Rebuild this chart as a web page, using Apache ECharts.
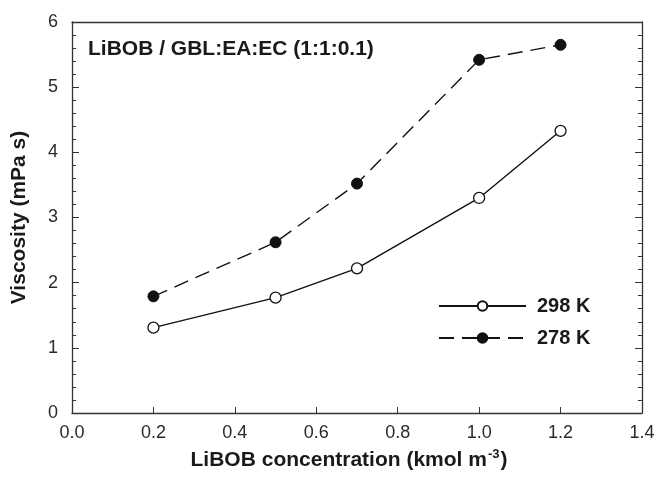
<!DOCTYPE html>
<html>
<head>
<meta charset="utf-8">
<script src="https://cdn.jsdelivr.net/npm/echarts@6/dist/echarts.min.js"></script>
<style>html,body{margin:0;padding:0;background:#fff}#c{width:659px;height:478px}</style>
</head>
<body>
<div id="c"></div>
<script>
// LiBOB concentration (kmol m^-3)
const concentration = [0.2, 0.5, 0.7, 1.0, 1.2];
// Viscosity (mPa s) at each temperature
const visc298 = [1.31, 1.77, 2.22, 3.30, 4.33];
const visc278 = [1.79, 2.62, 3.52, 5.42, 5.65];
const xTicks = [0.0, 0.2, 0.4, 0.6, 0.8, 1.0, 1.2, 1.4];
const yTicks = [0, 1, 2, 3, 4, 5, 6];
const seriesNames = ['298 K', '278 K'];

const pairs = (xs, ys) => xs.map((x, i) => [x, ys[i]]);
const font = 'Arial, "Liberation Sans", Helvetica, sans-serif';
const ink = '#1a1a1a';

const chart = echarts.init(document.getElementById('c'), null, { renderer: 'canvas' });
chart.setOption({
  animation: false,
  backgroundColor: '#fff',
  textStyle: { fontFamily: font },
  title: {
    text: 'LiBOB / GBL:EA:EC (1:1:0.1)',
    left: 83, top: 34,
    textStyle: { fontSize: 21, fontWeight: 'bold', color: ink, fontFamily: font }
  },
  legend: {
    orient: 'vertical',
    left: 433, top: 291,
    itemWidth: 87, itemHeight: 12, itemGap: 12,
    textStyle: { fontSize: 20, fontWeight: 'bold', color: ink, padding: [0, 0, 0, 6] },
    data: seriesNames
  },
  grid: { left: 72, right: 17, top: 22, bottom: 65 },
  xAxis: [{
    type: 'value', min: xTicks[0], max: xTicks[xTicks.length - 1], interval: 0.2,
    name: '{b|LiBOB concentration (kmol m}{s|-3}{b|)}',
    nameLocation: 'middle', nameGap: 35,
    nameTextStyle: {
      padding: [0, 16, 0, 0],
      rich: {
        b: { fontSize: 21, fontWeight: 'bold', color: ink, fontFamily: font },
        s: { fontSize: 13, fontWeight: 'bold', color: ink, fontFamily: font, verticalAlign: 'top', padding: [0, 1, 12, 1] }
      }
    },
    axisLine: { lineStyle: { color: '#333', width: 1.3 } },
    axisTick: { inside: true, length: 6, lineStyle: { color: '#333' } },
    axisLabel: { fontSize: 18, color: '#2a2a2a', margin: 11, formatter: v => v.toFixed(1) },
    splitLine: { show: false }
  }, {
    type: 'value', position: 'top', min: 0, max: 1.4,
    axisLine: { show: true, onZero: false, lineStyle: { color: '#333', width: 1.3 } },
    axisTick: { show: false }, axisLabel: { show: false }, splitLine: { show: false }
  }],
  yAxis: [{
    type: 'value', min: yTicks[0], max: yTicks[yTicks.length - 1], interval: 1,
    name: 'Viscosity (mPa s)', nameLocation: 'middle', nameGap: 42,
    nameTextStyle: { fontSize: 21, fontWeight: 'bold', color: ink },
    axisLine: { show: true, lineStyle: { color: '#333', width: 1.3 } },
    axisTick: { inside: true, length: 7, lineStyle: { color: '#333' } },
    minorTick: { show: true, splitNumber: 5, length: 4, lineStyle: { color: '#333' } },
    axisLabel: { fontSize: 18, color: '#2a2a2a', margin: 14 },
    splitLine: { show: false }
  }, {
    type: 'value', position: 'right', min: 0, max: 6, interval: 1,
    axisLine: { show: true, onZero: false, lineStyle: { color: '#333', width: 1.3 } },
    axisTick: { inside: true, length: 7, lineStyle: { color: '#333' } },
    minorTick: { show: true, splitNumber: 5, length: 4, lineStyle: { color: '#333' } },
    axisLabel: { show: false }, splitLine: { show: false }
  }],
  series: [{
    name: seriesNames[0], type: 'line', data: pairs(concentration, visc298),
    symbol: 'circle', symbolSize: 11,
    lineStyle: { color: '#111', width: 1.4, type: 'solid' },
    itemStyle: { color: '#fff', borderColor: '#111', borderWidth: 1.3 },
    z: 3
  }, {
    name: seriesNames[1], type: 'line', data: pairs(concentration, visc278),
    symbol: 'circle', symbolSize: 11,
    lineStyle: { color: '#111', width: 1.4, type: [15, 8] },
    itemStyle: { color: '#111', borderColor: '#111', borderWidth: 1 },
    z: 3
  }]
});
</script>
</body>
</html>
